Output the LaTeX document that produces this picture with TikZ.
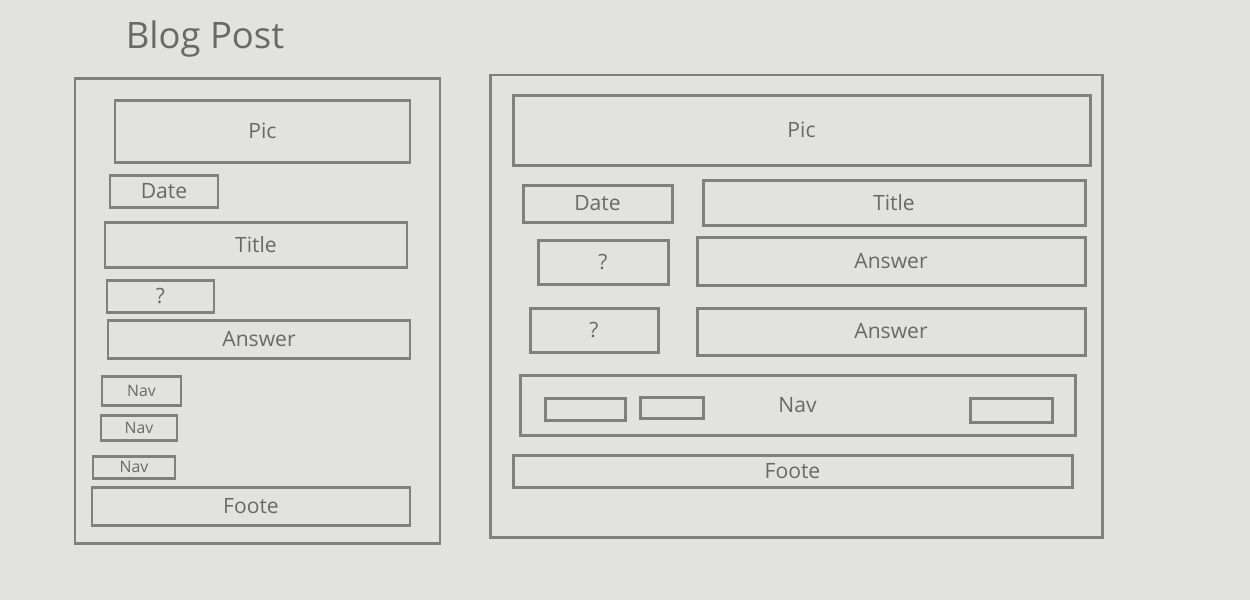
\documentclass[tikz,border=0pt]{standalone}
\usepackage{fontspec}
\setmainfont{Open Sans}
\usepackage{tikz}
\usetikzlibrary{positioning}

\definecolor{paper}{RGB}{226,226,224}
\definecolor{pencil}{RGB}{128,128,128}
\definecolor{graphite}{RGB}{105,105,105}

\begin{document}
\begin{tikzpicture}[
    frame/.style={draw=pencil, line width=1.7pt},
    box/.style={draw=pencil, line width=1.7pt, text=graphite, font=\large,
                inner sep=0pt},
    smallbox/.style={box, font=\small},
]
    % Paper
    \fill[paper] (0,0) rectangle (25,-12);
    \useasboundingbox (0,0) rectangle (25,-12);

    % Heading
    \node[text=graphite, font=\huge] (heading) at (4.1,-0.78) {Blog Post};

    % Narrow layout
    \node[frame, minimum width=7.3cm, minimum height=9.3cm] (lframe) at (5.15,-6.21) {};
    \node[box, minimum width=5.9cm, minimum height=1.24cm] (lpic) at (5.25,-2.62) {Pic};
    \node[box, minimum width=2.16cm, minimum height=0.64cm] (ldate) at (3.28,-3.82) {Date};
    \node[box, minimum width=6.04cm, minimum height=0.9cm] (ltitle) at (5.12,-4.89) {Title};
    \node[box, minimum width=2.14cm, minimum height=0.64cm] (lquestion) at (3.21,-5.92) {?};
    \node[box, minimum width=6.04cm, minimum height=0.76cm] (lanswer) at (5.18,-6.78) {Answer};
    \node[smallbox, minimum width=1.58cm, minimum height=0.58cm] (lnava) at (2.83,-7.81) {Nav};
    \node[smallbox, minimum width=1.52cm, minimum height=0.5cm] (lnavb) at (2.78,-8.55) {Nav};
    \node[smallbox, minimum width=1.64cm, minimum height=0.44cm] (lnavc) at (2.68,-9.34) {Nav};
    \node[box, minimum width=6.36cm, minimum height=0.76cm] (lfooter) at (5.02,-10.12) {Foote};

    % Wide layout
    \node[frame, minimum width=12.24cm, minimum height=9.24cm] (rframe) at (15.92,-6.12) {};
    \node[box, minimum width=11.54cm, minimum height=1.4cm] (rpic) at (16.03,-2.6) {Pic};
    \node[box, minimum width=2.98cm, minimum height=0.74cm] (rdate) at (11.95,-4.07) {Date};
    \node[box, minimum width=7.64cm, minimum height=0.9cm] (rtitle) at (17.88,-4.05) {Title};
    \node[box, minimum width=2.6cm, minimum height=0.88cm] (rquestiona) at (12.06,-5.24) {?};
    \node[box, minimum width=7.76cm, minimum height=0.96cm] (ranswera) at (17.82,-5.22) {Answer};
    \node[box, minimum width=2.56cm, minimum height=0.88cm] (rquestionb) at (11.88,-6.6) {?};
    \node[box, minimum width=7.76cm, minimum height=0.94cm] (ranswerb) at (17.82,-6.63) {Answer};
    \node[box, minimum width=11.1cm, minimum height=1.2cm] (rnav) at (15.95,-8.1) {Nav};
    \node[box, minimum width=1.6cm, minimum height=0.44cm] (rnavlinka) at (11.7,-8.18) {};
    \node[box, minimum width=1.26cm, minimum height=0.42cm] (rnavlinkb) at (13.43,-8.15) {};
    \node[box, minimum width=1.64cm, minimum height=0.48cm] (rnavlinkc) at (20.22,-8.2) {};
    \node[box, minimum width=11.18cm, minimum height=0.64cm] (rfooter) at (15.85,-9.42) {Foote};
\end{tikzpicture}
\end{document}
